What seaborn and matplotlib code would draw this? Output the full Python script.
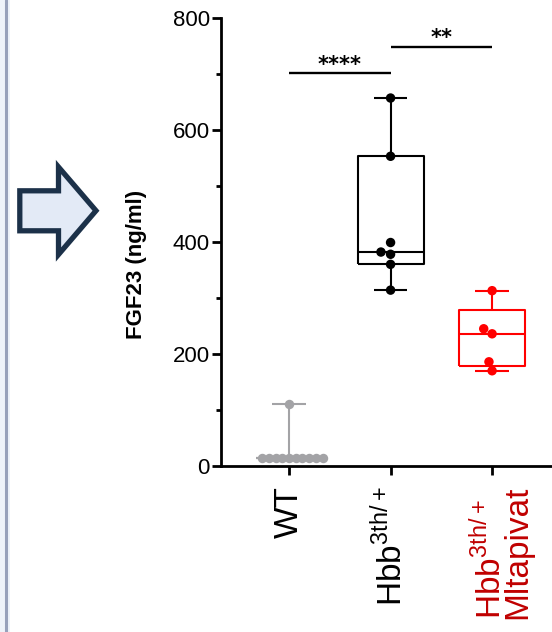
import numpy as np
import pandas as pd
import matplotlib
matplotlib.use("Agg")
import matplotlib.pyplot as plt
import matplotlib.transforms as mtransforms
from matplotlib.patches import Polygon, Rectangle
from matplotlib.lines import Line2D
import seaborn as sns

# FGF23 values (ng/ml)
groups = ["WT", "Hbb", "Mitapivat"]
tick_labels = ["WT",
               r"Hbb$^{\mathregular{3th/+}}$",
               "Hbb$^{\\mathregular{3th/+}}$\nMltapivat"]
wt_fgf23 = [15, 15, 15, 15, 15, 15, 15, 15, 15, 15, 111]
hbb_fgf23 = [657, 553, 399, 382, 378, 360, 314]
mit_fgf23 = [313, 245, 236, 186, 170]
group_colors = ["#A3A3A6", "#000000", "#FF0000"]

# significance brackets
sig_pairs = [(0, 1), (1, 2)]
sig_heights = [702, 749]
sig_stars = ["****", "**"]


def prism_box(vals):
    """Box stats like GraphPad: quartiles by the (n+1) method, whiskers min to max."""
    v = np.sort(np.asarray(vals, dtype=float))
    n = len(v)

    def quart(p):
        pos = min(max(p * (n + 1) - 1, 0), n - 1)
        lo = int(np.floor(pos))
        hi = min(lo + 1, n - 1)
        return v[lo] + (v[hi] - v[lo]) * (pos - lo)

    return dict(med=np.median(v), q1=quart(0.25), q3=quart(0.75),
                whislo=v.min(), whishi=v.max(), fliers=[])


sns.set_theme(style="ticks")
plt.rcParams["font.family"] = ["Liberation Sans", "DejaVu Sans"]
plt.rcParams["text.color"] = "black"
plt.rcParams["axes.labelcolor"] = "black"

fig = plt.figure(figsize=(5.52, 6.32), dpi=100)
ax = fig.add_axes([0.4004, 0.2627, 0.5996, 0.7089])

values = [wt_fgf23, hbb_fgf23, mit_fgf23]
bp = ax.bxp([prism_box(v) for v in values], positions=range(len(groups)),
            widths=0.65, capwidths=0.33, showfliers=False)
for i, c in enumerate(group_colors):
    parts = [bp["boxes"][i], bp["medians"][i]] + bp["whiskers"][2 * i:2 * i + 2] + bp["caps"][2 * i:2 * i + 2]
    for art in parts:
        art.set_color(c)
        art.set_linewidth(1.5)
        art.set_solid_capstyle("butt")

df = pd.DataFrame({
    "group": np.repeat(groups, [len(v) for v in values]),
    "fgf23": np.concatenate(values),
})

# WT: many identical values -> swarm with a smaller footprint so the dots overlap like in Prism
n0 = len(ax.collections)
sns.swarmplot(data=df[df.group == "WT"], x="group", y="fgf23", order=groups,
              color=group_colors[0], size=4.6, ax=ax, zorder=3)
wt_points = ax.collections[n0:]
sns.swarmplot(data=df[df.group != "WT"], x="group", y="fgf23", order=groups,
              hue="group", hue_order=groups, palette=group_colors, size=6.8,
              legend=False, ax=ax, zorder=3)

# significance bars
for (a, b), h, s in zip(sig_pairs, sig_heights, sig_stars):
    ax.plot([a, b], [h, h], color="black", lw=1.7, solid_capstyle="butt")
    ax.text((a + b) / 2, h + 4, s, ha="center", va="baseline", fontsize=15,
            fontweight="bold", family="DejaVu Sans", color="black")

ax.set_xlim(-0.67, 2.59)
ax.set_ylim(0, 800)
ax.set_yticks([0, 200, 400, 600, 800])
ax.set_yticks([100, 300, 500, 700], minor=True)
ax.set_xticks(range(len(groups)))
ax.set_xticklabels(tick_labels, rotation=90)
ax.set_xlabel("")
ax.set_ylabel("FGF23 (ng/ml)", fontsize=16, fontweight="bold", color="black")
ax.yaxis.set_label_coords(-0.225, 0.449)

sns.despine(ax=ax)
for sp in ["left", "bottom"]:
    ax.spines[sp].set_linewidth(2.0)
    ax.spines[sp].set_color("black")
ax.tick_params(axis="both", which="major", length=6.5, width=2, color="black")
ax.tick_params(axis="y", which="minor", length=3.5, width=2, color="black")
ax.tick_params(axis="y", labelsize=16, pad=1.5, labelcolor="black")
ax.tick_params(axis="x", labelsize=24, pad=8, labelcolor="black")

mit_label = ax.get_xticklabels()[2]
mit_label.set_color("#C00000")
mit_label.set_multialignment("left")
mit_label.set_linespacing(0.78)
mit_label.set_transform(mit_label.get_transform() +
                        mtransforms.ScaledTranslation(10 / 100, 0, fig.dpi_scale_trans))

# left-hand decoration: panel divider and block arrow
fig.add_artist(Rectangle((0, 0), 10 / 552, 1, transform=fig.transFigure,
                         facecolor="#EEF3FA", edgecolor="none", zorder=0))
fig.add_artist(Line2D([6 / 552, 6 / 552], [0, 1], transform=fig.transFigure,
                      color="#97A1BB", lw=2.2))
arrow_px = [(19.8, 190.8), (58.5, 190.8), (58.5, 167.0), (96.0, 210.7),
            (58.5, 254.5), (58.5, 230.8), (19.8, 230.8)]
fig.add_artist(Polygon([(x / 552, 1 - y / 632) for x, y in arrow_px], closed=True,
                       transform=fig.transFigure, facecolor="#E3EAF6",
                       edgecolor="#1C3149", lw=3.8, joinstyle="miter"))

# lay out the swarms, then freeze the WT dots and enlarge them to the common size
fig.canvas.draw()
for coll in wt_points:
    if "draw" in coll.__dict__:
        del coll.draw
    coll.set_sizes([6.8 ** 2])

fig.savefig("out.png", dpi=100)
